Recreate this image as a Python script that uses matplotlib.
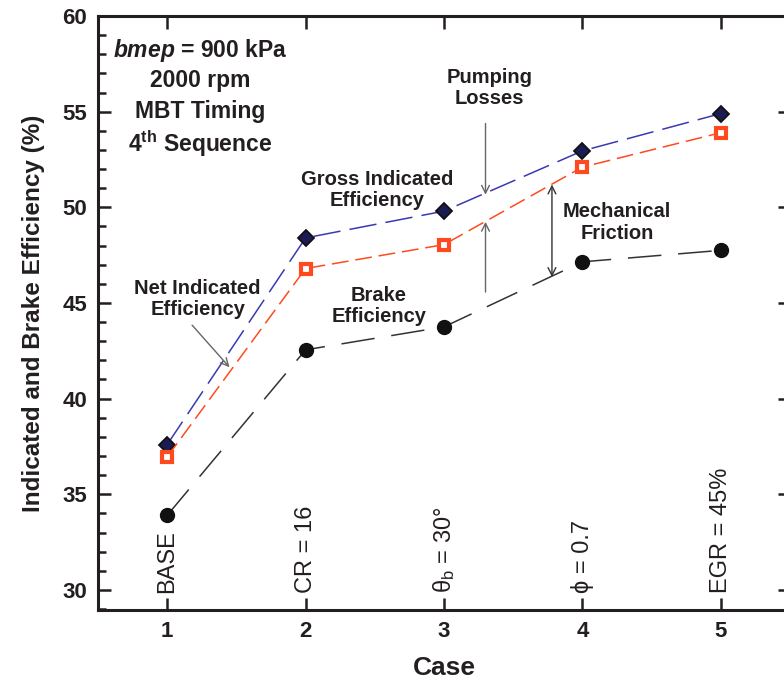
import matplotlib
matplotlib.use("Agg")
import matplotlib.pyplot as plt
from matplotlib.ticker import MultipleLocator
import matplotlib.transforms as mtransforms

plt.rcParams['font.family'] = ['Liberation Sans', 'DejaVu Sans']
plt.rcParams['mathtext.fontset'] = 'custom'
plt.rcParams['mathtext.rm'] = 'Liberation Sans'
plt.rcParams['mathtext.it'] = 'Liberation Sans:italic:bold'
plt.rcParams['mathtext.bf'] = 'Liberation Sans:bold'

cases = [1, 2, 3, 4, 5]
case_labels = ["BASE", "CR = 16", r"$\mathrm{\theta_b}$ = 30°", "ϕ = 0.7", "EGR = 45%"]
gross_indicated = [37.6, 48.4, 49.8, 52.95, 54.9]
net_indicated = [36.95, 46.8, 48.05, 52.1, 53.9]
brake = [33.9, 42.55, 43.75, 47.15, 47.75]

TXT = '#231f20'

fig = plt.figure(figsize=(7.84, 6.83), dpi=100)
ax = fig.add_axes([98/784, 73/683, 692/784, 594/683])

l1, = ax.plot(cases, gross_indicated, color='#3a3ab0', lw=1.1, zorder=3,
              marker='D', ms=8.5, mfc='#1c1c55', mec='#111111', mew=1.3)
l1.set_dashes((18, 6))
l2, = ax.plot(cases, net_indicated, color='#ff4a1f', lw=1.1, zorder=3,
              marker='s', ms=7.5, mfc='white', mec='#ff4a1f', mew=3.0)
l2.set_dashes((11, 4.5))
l3, = ax.plot(cases, brake, color='#333333', lw=1.1, zorder=3,
              marker='o', ms=10, mfc='#111111', mec='#111111')
l3.set_dashes((22, 11))

ax.set_xlim(0.5, 5.5)
ax.set_ylim(28.95, 60)
ax.set_xticks(cases)
ax.yaxis.set_major_locator(MultipleLocator(5))
ax.yaxis.set_minor_locator(MultipleLocator(1))
ax.set_yticks([30, 35, 40, 45, 50, 55, 60])

ax.tick_params(which='both', direction='in', top=True, right=True,
               width=1.8, colors='#231f20', labelcolor=TXT)
ax.tick_params(which='major', length=9, labelsize=16, pad=8)
ax.tick_params(which='minor', length=6, right=False)
for lab in ax.get_xticklabels() + ax.get_yticklabels():
    lab.set_fontweight('bold')
for sp in ax.spines.values():
    sp.set_linewidth(2.2)
    sp.set_color('#231f20')

ax.set_xlabel("Case", fontsize=19, fontweight='bold', color=TXT, labelpad=10)
ax.set_ylabel("Indicated and Brake Efficiency (%)", fontsize=17.5, fontweight='bold',
              color=TXT, labelpad=12)

# case labels inside the axes
trans = mtransforms.blended_transform_factory(ax.transData, ax.transAxes)
for x, lab in zip(cases, case_labels):
    ax.text(x, 0.028, lab, transform=trans, rotation=90, ha='center', va='bottom',
            fontsize=17, color=TXT)

# condition block
kw = dict(ha='center', va='center', fontsize=16.5, fontweight='bold', color=TXT)
ax.text(1.24, 58.2, r"$bmep$ = 900 kPa", **kw)
ax.text(1.24, 56.63, "2000 rpm", **kw)
ax.text(1.24, 55.0, "MBT Timing", **kw)
ax.text(1.24, 53.33, r"4$^{\mathbf{th}}$ Sequence", **kw)

# series annotations
kw2 = dict(ha='center', va='center', fontsize=14.5, fontweight='bold', color=TXT,
           linespacing=1.15)
ax.text(2.52, 50.9, "Gross Indicated\nEfficiency", **kw2)
ax.text(3.33, 56.25, "Pumping\nLosses", **kw2)
ax.text(4.25, 49.2, "Mechanical\nFriction", **kw2)
ax.text(1.22, 45.2, "Net Indicated\nEfficiency", **kw2)
ax.text(2.53, 44.85, "Brake\nEfficiency", **kw2)

akw = dict(arrowstyle='->', color='#666666', lw=1.0, mutation_scale=14,
           shrinkA=0, shrinkB=0)
ax.annotate("", xy=(3.30, 50.66), xytext=(3.30, 54.38), arrowprops=akw)
ax.annotate("", xy=(3.30, 49.24), xytext=(3.30, 45.57), arrowprops=akw)
ax.annotate("", xy=(1.45, 41.64), xytext=(1.18, 43.84), arrowprops=akw)
ax.annotate("", xy=(3.78, 51.19), xytext=(3.78, 46.36),
            arrowprops=dict(arrowstyle='<->', color='#333333', lw=1.0,
                            mutation_scale=14, shrinkA=0, shrinkB=0))

fig.savefig("out.png", dpi=100)
